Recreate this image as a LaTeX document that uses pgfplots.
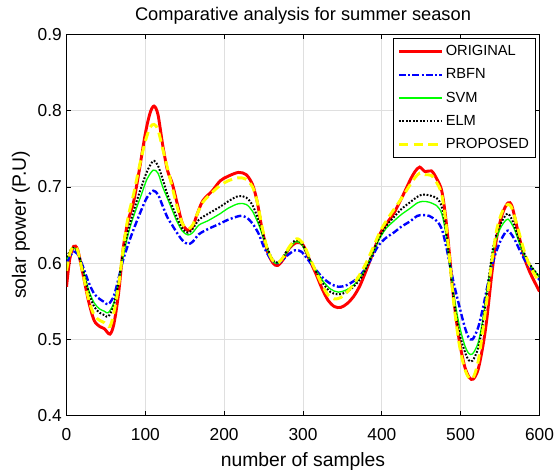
\documentclass[border=0pt]{standalone}
\usepackage{fontspec}
\setmainfont{Liberation Sans}
\usepackage{pgfplots}
\pgfplotsset{compat=1.18}

\definecolor{mred}{rgb}{1,0,0}
\definecolor{mblue}{rgb}{0,0,1}
\definecolor{mgreen}{rgb}{0,1,0}
\definecolor{myellow}{rgb}{1,1,0}

\begin{document}
\begin{tikzpicture}
\begin{axis}[
  scale only axis,
  width=354.75pt, height=286pt,
  xmin=0, xmax=600, ymin=0.4, ymax=0.9,
  xtick={0,100,...,600},
  ytick={0.4,0.5,...,0.9},
  yticklabel style={/pgf/number format/.cd,fixed,fixed zerofill,precision=1},
  /pgf/number format/assume math mode=true,
  tick align=inside,
  major tick length=3.5pt,
  tick style={black, line width=0.6pt},
  axis line style={black, line width=0.8pt},
  grid=major,
  grid style={gray!25, line width=0.7pt},
  tick label style={font=\fontsize{13}{15}\selectfont},
  xticklabel style={yshift=-6pt},
  xlabel={number of samples},
  ylabel={solar power (P.U)},
  label style={font=\fontsize{14.5}{17}\selectfont},
  xlabel style={yshift=-2pt},
  ylabel style={yshift=-1pt},
  title={Comparative analysis for summer season},
  title style={font=\fontsize{13.7}{16}\selectfont, yshift=-2pt},
  legend cell align=left,
  legend style={at={(0.9926,0.9895)}, anchor=north east, draw=black,
    line width=0.6pt, fill=white, font=\fontsize{11}{13}\selectfont,
    inner xsep=3pt, inner ysep=3pt, row sep=4.3pt},
  legend image code/.code={\draw[#1] (0pt,0pt) -- (32pt,0pt);},
]
\addplot[mred, line width=2.2pt, smooth] coordinates {
(0,0.569) (4,0.605) (9,0.622) (14,0.618) (20,0.59) (28,0.55) (35,0.525) (42,0.517)
(48,0.514) (55,0.507) (60,0.52) (66,0.56) (72,0.62) (78,0.655) (85,0.68) (92,0.72)
(100,0.77) (106,0.797) (111,0.806) (116,0.795) (122,0.755) (128,0.722) (134,0.705)
(140,0.68) (147,0.652) (154,0.643) (160,0.648) (166,0.665) (173,0.682) (185,0.695)
(195,0.708) (205,0.714) (218,0.719) (228,0.716) (236,0.703) (242,0.68) (248,0.645)
(255,0.615) (262,0.6) (268,0.597) (275,0.605) (283,0.62) (292,0.627) (300,0.624)
(308,0.605) (316,0.587) (324,0.567) (332,0.551) (340,0.543) (348,0.542) (356,0.547)
(364,0.556) (372,0.57) (380,0.59) (390,0.617) (398,0.639) (406,0.652) (415,0.665)
(425,0.685) (436,0.709) (442,0.72) (448,0.726) (455,0.72) (463,0.721) (470,0.71)
(476,0.695) (481,0.66) (486,0.61) (491,0.555) (498,0.5) (505,0.465) (511,0.45)
(516,0.448) (522,0.46) (528,0.49) (533,0.525) (540,0.59) (546,0.635) (553,0.665)
(560,0.679) (565,0.675) (572,0.645) (580,0.61) (587,0.59) (594,0.575) (600,0.563)
};
\addlegendentry{ORIGINAL}
\addplot[mblue, line width=1.8pt, dash pattern=on 5pt off 1.8pt on 1.5pt off 1.8pt, smooth] coordinates {
(0,0.6) (5,0.61) (9,0.615) (14,0.612) (20,0.598) (28,0.575) (35,0.56) (42,0.553)
(48,0.549) (53,0.546) (60,0.557) (66,0.58) (72,0.605) (80,0.63) (88,0.652) (95,0.67)
(102,0.686) (110,0.695) (116,0.69) (122,0.675) (128,0.66) (134,0.65) (140,0.64)
(147,0.63) (154,0.625) (160,0.628) (168,0.638) (180,0.645) (195,0.652) (205,0.657)
(220,0.662) (228,0.66) (236,0.652) (244,0.638) (250,0.622) (258,0.607) (265,0.6)
(272,0.602) (280,0.61) (290,0.617) (298,0.615) (306,0.605) (315,0.593) (325,0.581)
(335,0.573) (345,0.569) (355,0.571) (365,0.577) (375,0.587) (385,0.603) (395,0.622)
(405,0.633) (415,0.64) (425,0.648) (436,0.655) (445,0.662) (452,0.663) (460,0.662)
(470,0.655) (476,0.645) (481,0.625) (486,0.6) (491,0.575) (498,0.545) (505,0.517)
(510,0.503) (515,0.5) (522,0.515) (528,0.54) (535,0.575) (542,0.605) (550,0.628)
(558,0.642) (562,0.641) (568,0.632) (575,0.617) (582,0.603) (590,0.592) (600,0.578)
};
\addlegendentry{RBFN}
\addplot[mgreen, line width=1pt, smooth] coordinates {
(0,0.605) (5,0.615) (9,0.62) (14,0.615) (20,0.595) (28,0.565) (35,0.548) (42,0.54)
(48,0.537) (53,0.535) (60,0.548) (66,0.575) (72,0.61) (80,0.645) (88,0.67) (95,0.69)
(102,0.71) (110,0.722) (116,0.718) (122,0.7) (128,0.685) (134,0.67) (140,0.655)
(147,0.642) (154,0.637) (160,0.64) (168,0.65) (180,0.656) (195,0.665) (205,0.672)
(218,0.678) (228,0.677) (236,0.668) (244,0.65) (250,0.632) (258,0.61) (265,0.6)
(272,0.603) (280,0.615) (290,0.628) (298,0.625) (306,0.61) (315,0.593) (325,0.577)
(335,0.566) (345,0.562) (355,0.565) (365,0.572) (375,0.585) (385,0.605) (395,0.628)
(405,0.645) (415,0.655) (425,0.664) (436,0.672) (445,0.679) (452,0.681) (460,0.68)
(470,0.675) (476,0.665) (481,0.64) (486,0.6) (491,0.56) (498,0.52) (505,0.493)
(510,0.482) (515,0.481) (522,0.495) (528,0.525) (535,0.575) (542,0.62) (550,0.645)
(558,0.657) (562,0.656) (568,0.645) (575,0.625) (582,0.608) (590,0.595) (600,0.582)
};
\addlegendentry{SVM}
\addplot[black, line width=1.5pt, dash pattern=on 1.3pt off 1.3pt, smooth] coordinates {
(0,0.608) (5,0.617) (9,0.62) (14,0.615) (20,0.595) (28,0.562) (35,0.543) (42,0.535)
(48,0.532) (53,0.53) (60,0.545) (66,0.575) (72,0.615) (80,0.65) (88,0.678) (95,0.7)
(102,0.72) (110,0.734) (116,0.728) (122,0.71) (128,0.69) (134,0.675) (140,0.66)
(147,0.645) (154,0.64) (160,0.645) (168,0.657) (180,0.665) (195,0.674) (205,0.681)
(218,0.688) (228,0.686) (236,0.676) (244,0.655) (250,0.635) (258,0.612) (265,0.601)
(272,0.604) (280,0.617) (290,0.63) (298,0.627) (306,0.61) (315,0.592) (325,0.574)
(335,0.562) (345,0.559) (355,0.562) (365,0.57) (375,0.583) (385,0.605) (395,0.63)
(405,0.648) (415,0.66) (425,0.671) (436,0.68) (445,0.687) (452,0.69) (460,0.689)
(470,0.685) (476,0.674) (481,0.645) (486,0.6) (491,0.555) (498,0.51) (505,0.485)
(510,0.473) (515,0.472) (522,0.488) (528,0.52) (535,0.575) (542,0.625) (550,0.65)
(558,0.664) (562,0.663) (568,0.65) (575,0.628) (582,0.61) (590,0.595) (600,0.582)
};
\addlegendentry{ELM}
\addplot[myellow, line width=2.2pt, dash pattern=on 7pt off 4pt, smooth] coordinates {
(0,0.59) (4,0.612) (9,0.622) (14,0.617) (20,0.59) (28,0.553) (35,0.532) (42,0.525)
(48,0.522) (55,0.517) (60,0.535) (66,0.57) (72,0.62) (78,0.66) (85,0.69) (92,0.725)
(100,0.76) (106,0.778) (111,0.782) (116,0.775) (122,0.75) (128,0.725) (134,0.7)
(140,0.675) (147,0.652) (154,0.645) (160,0.65) (166,0.665) (173,0.68) (185,0.693)
(195,0.702) (205,0.708) (218,0.712) (228,0.71) (236,0.7) (242,0.68) (248,0.648)
(255,0.618) (262,0.603) (268,0.6) (275,0.608) (283,0.622) (292,0.632) (300,0.626)
(308,0.608) (316,0.59) (324,0.572) (332,0.558) (340,0.553) (348,0.555) (356,0.562)
(364,0.572) (372,0.585) (380,0.6) (390,0.623) (398,0.642) (406,0.656) (415,0.67)
(425,0.685) (436,0.703) (442,0.712) (448,0.718) (455,0.716) (463,0.715) (470,0.705)
(476,0.69) (481,0.655) (486,0.605) (491,0.55) (498,0.495) (505,0.462) (511,0.449)
(516,0.45) (522,0.47) (528,0.51) (533,0.55) (540,0.605) (546,0.645) (553,0.668)
(560,0.677) (565,0.672) (572,0.648) (580,0.618) (587,0.598) (594,0.585) (600,0.575)
};
\addlegendentry{PROPOSED}
\end{axis}
\pgfresetboundingbox
\useasboundingbox (-49.9pt,-44.5pt) rectangle (369.4pt,311.8pt);
\end{tikzpicture}
\end{document}
